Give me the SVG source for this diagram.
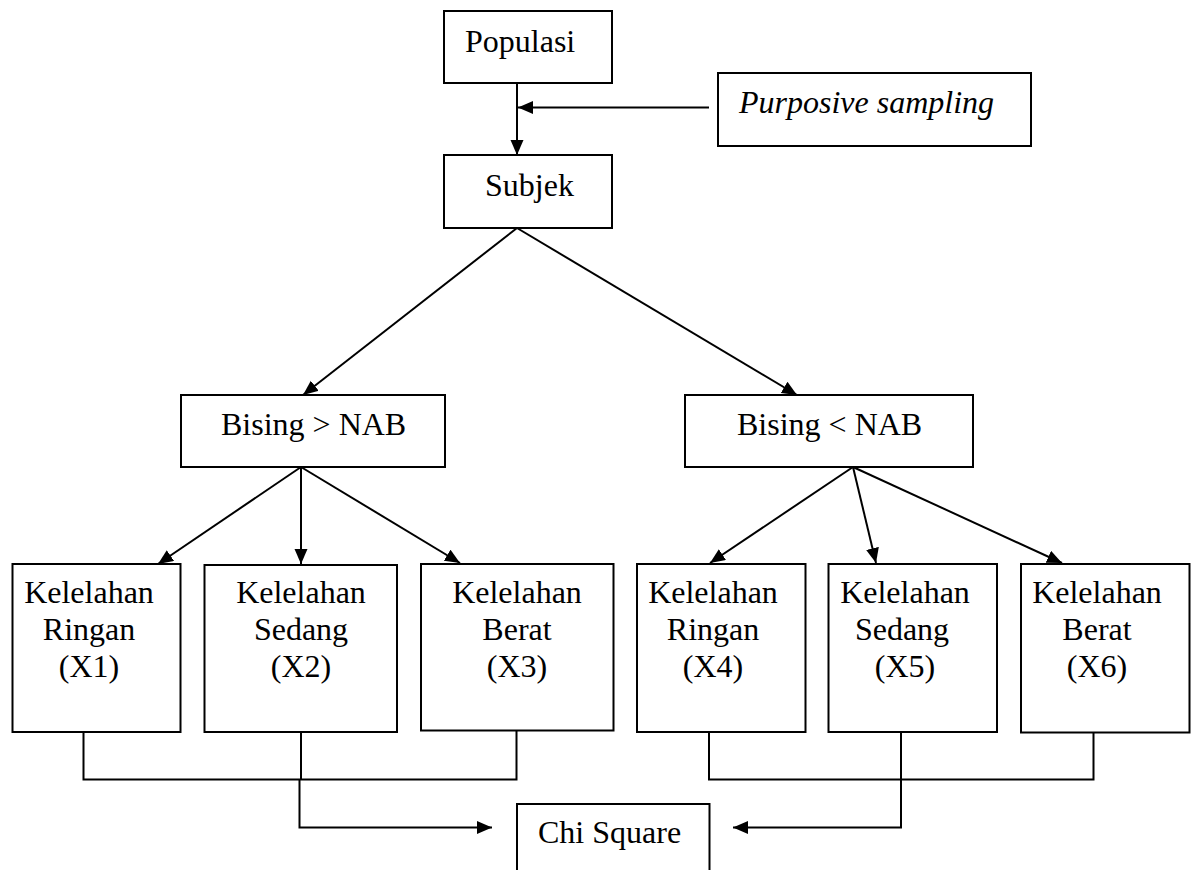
<svg xmlns="http://www.w3.org/2000/svg" width="1195" height="870" viewBox="0 0 1195 870">
<style>
.box{fill:#fff;stroke:#000;stroke-width:2}
.t{font-family:"Liberation Serif","Times New Roman",serif;font-size:32px;fill:#000}
.c{text-anchor:middle}
.i{font-style:italic}
.ln{fill:none;stroke:#000;stroke-width:2}
.ar{marker-end:url(#ah)}
</style>
<defs>
<marker id="ah" markerUnits="userSpaceOnUse" markerWidth="16" markerHeight="14" refX="15" refY="6.5" orient="auto">
<path d="M0,0 L15,6.5 L0,13 z" fill="#000"/>
</marker>
</defs>
<rect x="0" y="0" width="1195" height="870" fill="#fff"/>
<g id="connectors">
<line class="ln" x1="517" y1="83" x2="517" y2="155" style="marker-end:url(#ah)"/>
<line class="ln ar" x1="709" y1="107.5" x2="518" y2="107.5"/>
<line class="ln ar" x1="517" y1="228" x2="303" y2="395"/>
<line class="ln ar" x1="517" y1="228" x2="797" y2="395"/>
<line class="ln ar" x1="301" y1="467" x2="158" y2="564"/>
<line class="ln ar" x1="301" y1="467" x2="301" y2="564"/>
<line class="ln ar" x1="301" y1="467" x2="460" y2="563"/>
<line class="ln ar" x1="853" y1="467" x2="710" y2="563"/>
<line class="ln ar" x1="853" y1="467" x2="876" y2="563"/>
<line class="ln ar" x1="853" y1="467" x2="1062" y2="563"/>
<polyline class="ln" points="83.5,732 83.5,779.5 516.5,779.5 516.5,731"/>
<line class="ln" x1="301" y1="732" x2="301" y2="779.5"/>
<polyline class="ln ar" points="299.5,779.5 299.5,827.5 492,827.5"/>
<polyline class="ln" points="709,732 709,779.5 1093.5,779.5 1093.5,732"/>
<polyline class="ln ar" points="901,732 901,827.5 733,827.5"/>
</g>
<g id="populasi">
<rect class="box" x="444" y="11" width="168" height="72"/>
<text class="t" x="465" y="52">Populasi</text>
</g>
<g id="purposive">
<rect class="box" x="718" y="73" width="313" height="73"/>
<text class="t i" x="739" y="113">Purposive sampling</text>
</g>
<g id="subjek">
<rect class="box" x="444" y="155" width="168" height="73"/>
<text class="t" x="485" y="196">Subjek</text>
</g>
<g id="bising-atas">
<rect class="box" x="181" y="395" width="264" height="72"/>
<text class="t" x="221" y="435">Bising &gt; NAB</text>
</g>
<g id="bising-bawah">
<rect class="box" x="685" y="395" width="288" height="72"/>
<text class="t" x="737" y="435">Bising &lt; NAB</text>
</g>
<g id="x1">
<rect class="box" x="12.5" y="564" width="168" height="168"/>
<text class="t c" x="89" y="603">Kelelahan</text>
<text class="t c" x="89" y="640">Ringan</text>
<text class="t c" x="89" y="677">(X1)</text>
</g>
<g id="x2">
<rect class="box" x="204.5" y="565" width="192.5" height="167"/>
<text class="t c" x="301" y="603">Kelelahan</text>
<text class="t c" x="301" y="640">Sedang</text>
<text class="t c" x="301" y="677">(X2)</text>
</g>
<g id="x3">
<rect class="box" x="421" y="564" width="192.5" height="166.5"/>
<text class="t c" x="517" y="603">Kelelahan</text>
<text class="t c" x="517" y="640">Berat</text>
<text class="t c" x="517" y="677">(X3)</text>
</g>
<g id="x4">
<rect class="box" x="637" y="564" width="168.5" height="168"/>
<text class="t c" x="713" y="603">Kelelahan</text>
<text class="t c" x="713" y="640">Ringan</text>
<text class="t c" x="713" y="677">(X4)</text>
</g>
<g id="x5">
<rect class="box" x="828.5" y="564" width="168.5" height="168"/>
<text class="t c" x="905" y="603">Kelelahan</text>
<text class="t c" x="902" y="640">Sedang</text>
<text class="t c" x="905" y="677">(X5)</text>
</g>
<g id="x6">
<rect class="box" x="1021" y="564" width="168.5" height="168.5"/>
<text class="t c" x="1097" y="603">Kelelahan</text>
<text class="t c" x="1097" y="640">Berat</text>
<text class="t c" x="1097" y="677">(X6)</text>
</g>
<g id="chi-square">
<rect class="box" x="517" y="804" width="192.5" height="90"/>
<text class="t" x="538" y="843">Chi Square</text>
</g>
</svg>
